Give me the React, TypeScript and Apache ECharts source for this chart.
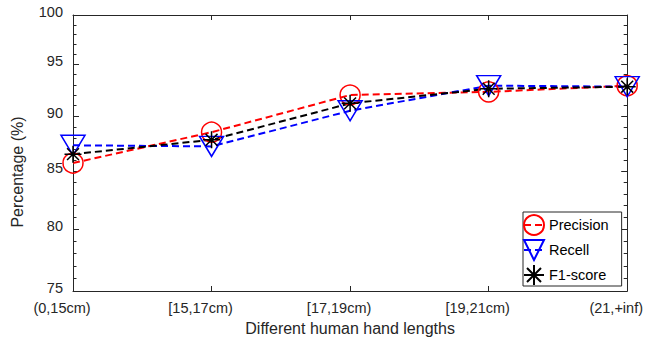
import { useEffect, useRef } from "react";
import * as echarts from "echarts";

// Hand-length groups on the x axis
const categories = ["(0,15cm)", "[15,17cm)", "[17,19cm)", "[19,21cm)", "(21,+inf)"];

// Recognition scores per group (%)
const precision = [85.7, 88.5, 92.0, 92.3, 92.9];
const recall = [87.3, 87.2, 90.5, 92.9, 92.8];
const f1Score = [86.5, 87.8, 91.2, 92.6, 92.8];

// Logarithmic y axis: labelled and unlabelled ticks
const yMin = 75;
const yMax = 100;
const yMajorTicks = [75, 80, 85, 90, 95, 100];
const yMinorStep = 1;

const seriesNames = ["Precision", "Recell", "F1-score"];

const AXIS_COLOR = "#262626";
const FONT = "'Liberation Sans', Arial, Helvetica, sans-serif";
const DASH = [7, 4];
const ASTERISK = "path://M10,0L10,20M0,10L20,10M3,3L17,17M3,17L17,3";

export default function App() {
  const ref = useRef<HTMLDivElement>(null);

  useEffect(() => {
    const el = ref.current;
    if (!el) return;
    const chart = echarts.init(el, null, { renderer: "svg" });

    const frameAxis = {
      axisLine: { show: true, lineStyle: { color: AXIS_COLOR, width: 1 } },
      splitLine: { show: false },
    };

    chart.setOption({
      animation: false,
      backgroundColor: "#ffffff",
      grid: { left: 73, right: 17, top: 15, bottom: 51 },
      xAxis: [
        {
          type: "category",
          data: categories,
          boundaryGap: false,
          position: "bottom",
          ...frameAxis,
          axisTick: { show: true, inside: true, length: 5, lineStyle: { color: AXIS_COLOR } },
          axisLabel: {
            interval: 0,
            margin: 9,
            color: AXIS_COLOR,
            fontSize: 14.5,
            fontFamily: FONT,
            padding: [0, 22, 0, 0],
          },
          name: "Different human hand lengths",
          nameLocation: "middle",
          nameGap: 29,
          nameTextStyle: { fontSize: 16, color: AXIS_COLOR, fontFamily: FONT },
        },
        {
          type: "category",
          data: categories,
          boundaryGap: false,
          position: "top",
          ...frameAxis,
          axisTick: { show: true, inside: true, length: 5, lineStyle: { color: AXIS_COLOR } },
          axisLabel: { show: false },
        },
      ],
      yAxis: [
        {
          type: "log",
          logBase: 10,
          min: yMin,
          max: yMax,
          position: "left",
          ...frameAxis,
          axisTick: { show: false },
          axisLabel: { show: false },
        },
        {
          type: "log",
          logBase: 10,
          min: yMin,
          max: yMax,
          position: "right",
          ...frameAxis,
          axisTick: { show: false },
          axisLabel: { show: false },
        },
      ],
      legend: {
        orient: "vertical",
        left: 523,
        top: 212,
        itemWidth: 20,
        itemHeight: 25,
        itemGap: 3,
        padding: [2, 13, 0, 0],
        borderColor: AXIS_COLOR,
        borderWidth: 1,
        borderRadius: 0,
        backgroundColor: "#ffffff",
        textStyle: { fontSize: 14.5, color: "#000000", fontFamily: FONT },
        data: seriesNames,
        selectedMode: false,
      },
      series: [
        {
          name: seriesNames[0],
          type: "line",
          data: precision,
          symbol: "circle",
          symbolSize: 20,
          itemStyle: { color: "rgba(255,0,0,0)", borderColor: "#ff0000", borderWidth: 1.5 },
          lineStyle: { color: "#ff0000", width: 2, type: DASH },
          emphasis: { disabled: true },
          silent: true,
        },
        {
          name: seriesNames[1],
          type: "line",
          data: recall,
          symbol: "triangle",
          symbolRotate: 180,
          symbolSize: [24, 20],
          itemStyle: { color: "rgba(0,0,255,0)", borderColor: "#0000ff", borderWidth: 1.5 },
          lineStyle: { color: "#0000ff", width: 2, type: DASH },
          emphasis: { disabled: true },
          silent: true,
        },
        {
          name: seriesNames[2],
          type: "line",
          data: f1Score,
          symbol: ASTERISK,
          symbolSize: 17,
          itemStyle: { color: "rgba(0,0,0,0)", borderColor: "#000000", borderWidth: 1.5 },
          lineStyle: { color: "#000000", width: 2, type: DASH },
          emphasis: { disabled: true },
          silent: true,
        },
      ],
    });

    // Log-axis ticks and labels, placed through the axis scale
    const xLeft = chart.convertToPixel({ xAxisIndex: 0 }, categories[0]) as number;
    const xRight = chart.convertToPixel({ xAxisIndex: 0 }, categories[categories.length - 1]) as number;
    const yTop = chart.convertToPixel({ yAxisIndex: 0 }, yMax) as number;
    const yBottom = chart.convertToPixel({ yAxisIndex: 0 }, yMin) as number;
    const yPx = (v: number) => chart.convertToPixel({ yAxisIndex: 0 }, v) as number;

    const graphics: any[] = [];
    for (let v = yMin; v <= yMax; v += yMinorStep) {
      const major = yMajorTicks.includes(v);
      const len = major ? 6 : 3.5;
      const y = Math.round(yPx(v)) + 0.5;
      graphics.push({
        type: "line",
        silent: true,
        shape: { x1: xLeft, y1: y, x2: xLeft + len, y2: y },
        style: { stroke: AXIS_COLOR, lineWidth: 1 },
      });
      graphics.push({
        type: "line",
        silent: true,
        shape: { x1: xRight, y1: y, x2: xRight - len, y2: y },
        style: { stroke: AXIS_COLOR, lineWidth: 1 },
      });
    }
    yMajorTicks.forEach((v) => {
      graphics.push({
        type: "text",
        silent: true,
        x: xLeft - 10,
        y: yPx(v) - 3,
        style: {
          text: String(v),
          fill: AXIS_COLOR,
          fontSize: 14.5,
          fontFamily: FONT,
          align: "right",
          verticalAlign: "middle",
          textAlign: "right",
          textVerticalAlign: "middle",
        },
      });
    });
    graphics.push({
      type: "text",
      silent: true,
      x: 17,
      y: (yTop + yBottom) / 2 + 19,
      rotation: Math.PI / 2,
      style: {
        text: "Percentage (%)",
        fill: AXIS_COLOR,
        fontSize: 16,
        fontFamily: FONT,
        align: "center",
        verticalAlign: "middle",
        textAlign: "center",
        textVerticalAlign: "middle",
      },
    });
    chart.setOption({ graphic: graphics });

    return () => chart.dispose();
  }, []);

  return (
    <div
      ref={ref}
      style={{ position: "fixed", left: 0, top: 0, width: 646, height: 342, background: "#fff" }}
    />
  );
}
